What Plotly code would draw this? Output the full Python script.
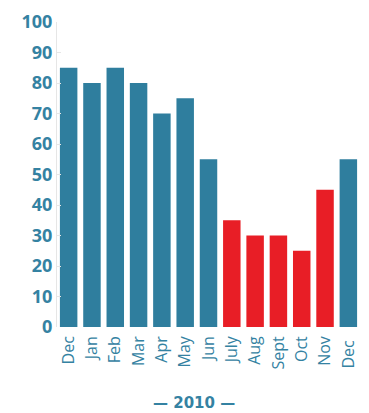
import plotly.graph_objects as go

# Monthly values, Dec 2009 through Dec 2010
months = ["Dec", "Jan", "Feb", "Mar", "Apr", "May", "Jun",
          "July", "Aug", "Sept", "Oct", "Nov", "Dec "]
values = [85, 80, 85, 80, 70, 75, 55, 35, 30, 30, 25, 45, 55]
highlight = [False, False, False, False, False, False, False,
             True, True, True, True, True, False]

BLUE = "#2f7e9e"
RED = "#e81e26"
TEXT = "#3482a2"

colors = [RED if h else BLUE for h in highlight]

fig = go.Figure(
    go.Bar(
        x=months,
        y=values,
        marker=dict(color=colors, line=dict(width=0)),
    )
)

fig.update_layout(
    width=369,
    height=413,
    margin=dict(l=57, r=9, t=22, b=86),
    paper_bgcolor="white",
    plot_bgcolor="white",
    bargap=0.25,
    showlegend=False,
    font=dict(family="Open Sans", color=TEXT),
    xaxis=dict(
        tickangle=-90,
        tickfont=dict(size=16, color=TEXT, family="Open Sans"),
        ticklabelstandoff=5,
        showgrid=False,
        showline=False,
        ticks="",
        fixedrange=True,
    ),
    yaxis=dict(
        range=[0, 100],
        tickvals=list(range(0, 101, 10)),
        tickfont=dict(size=18, color=TEXT, family="Open Sans", weight="bold"),
        showgrid=False,
        zeroline=False,
        showline=True,
        linecolor="#e6e6e6",
        linewidth=1,
        ticks="inside",
        ticklen=4,
        tickcolor="#e6e6e6",
        fixedrange=True,
    ),
)

# Year caption under the month labels
fig.add_annotation(
    text="— 2010 —",
    xref="paper", yref="paper",
    x=0.452, y=-0.248,
    xanchor="center", yanchor="middle",
    showarrow=False,
    borderpad=0,
    font=dict(size=15, color=TEXT, family="DejaVu Sans", weight="bold"),
)

fig.write_html("out.html")
